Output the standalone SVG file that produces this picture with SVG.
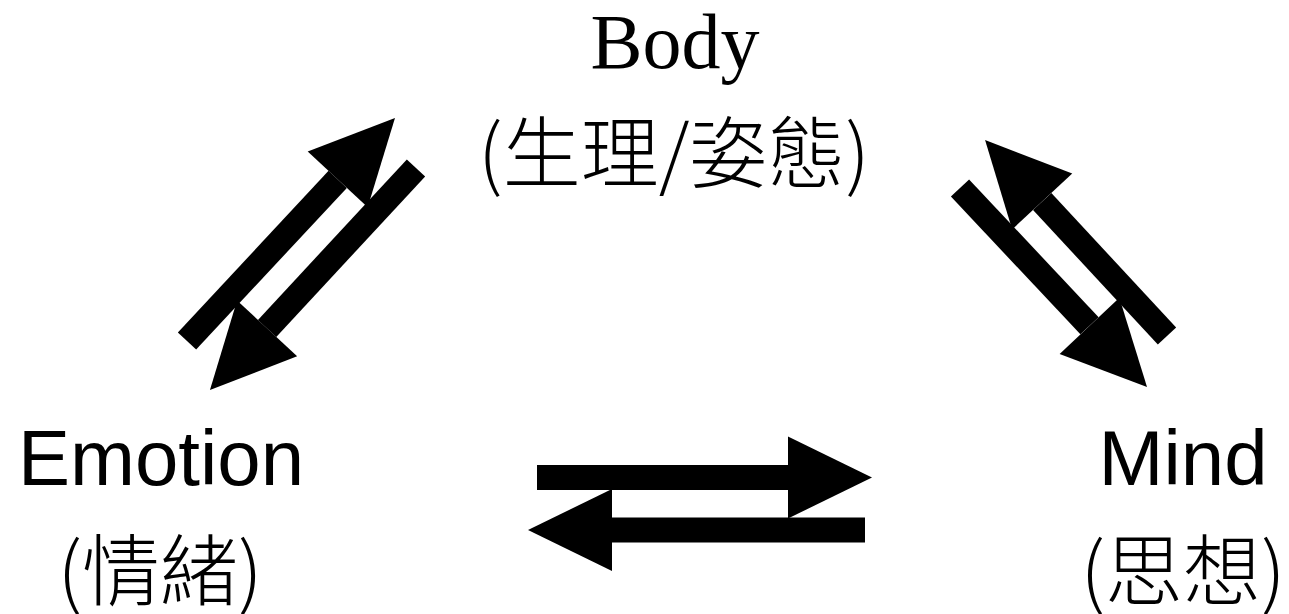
<svg xmlns="http://www.w3.org/2000/svg" width="1289" height="614" viewBox="0 0 1289 614">
  <style>
    .lbl { font-family: "Liberation Sans", "Noto Sans CJK TC", sans-serif; font-size: 78px; fill: #000; text-anchor: middle; }
    .cjk { font-family: "Noto Sans CJK TC", "Liberation Sans", sans-serif; font-weight: 300; }
    .serif { font-family: "Liberation Serif", "Noto Sans CJK TC", serif; }
    .arr { stroke: #000; stroke-width: 25; stroke-linecap: butt; fill: none; marker-end: url(#head); }
  </style>
  <defs>
    <marker id="head" markerUnits="userSpaceOnUse" viewBox="0 -42 86 84" markerWidth="86" markerHeight="84" refX="0" refY="0" orient="auto" overflow="visible">
      <path d="M0,-41 L84,0 L0,41 Z" fill="#000"/>
    </marker>
  </defs>
  <rect width="1289" height="614" fill="#fff"/>
  <g id="node-body">
    <text class="lbl serif" x="675" y="68">Body</text>
    <text class="lbl cjk" x="674" y="182">(生理/姿態)</text>
  </g>
  <g id="node-emotion">
    <text class="lbl" x="161" y="485">Emotion</text>
    <text class="lbl cjk" x="160" y="600">(情緒)</text>
  </g>
  <g id="node-mind">
    <text class="lbl" x="1183" y="485">Mind</text>
    <text class="lbl cjk" x="1183" y="600">(思想)</text>
  </g>
  <g id="connectors">
    <line class="arr" x1="187" y1="341" x2="337.7" y2="179.4"/>
    <line class="arr" x1="416" y1="168" x2="267.1" y2="328.4"/>
    <line class="arr" x1="1167" y1="336" x2="1042.2" y2="201.5"/>
    <line class="arr" x1="960" y1="188" x2="1089.5" y2="325.8"/>
    <line class="arr" x1="537" y1="477.5" x2="788" y2="477.5"/>
    <line class="arr" x1="865" y1="530" x2="612" y2="530"/>
  </g>
</svg>
